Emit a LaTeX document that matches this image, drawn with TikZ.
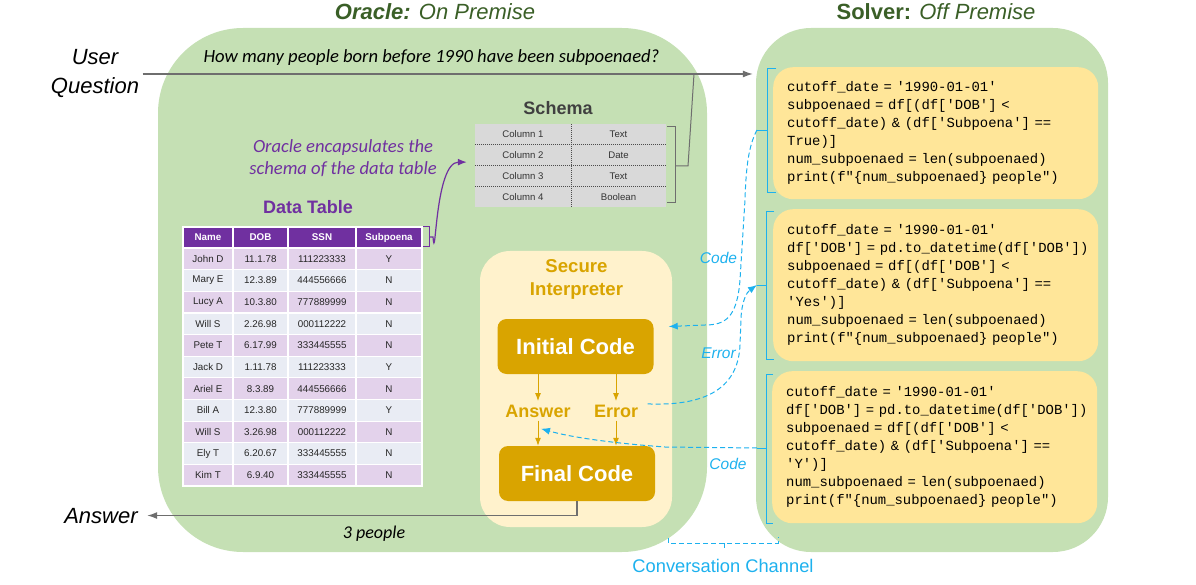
\documentclass[tikz,border=0pt]{standalone}
\usepackage{fontspec}
\setmainfont{Liberation Sans}
\setmonofont{Liberation Mono}
\newfontfamily\carlito{Carlito}
\newcommand{\codefont}{\ttfamily\fontsize{13.9}{18}\selectfont\spaceskip 8.34pt\relax}
\usepackage{tikz}
\usetikzlibrary{calc}
\usetikzlibrary{arrows}
\usetikzlibrary{arrows.meta}
\usetikzlibrary{positioning}
\tikzset{>=latex}

\definecolor{panelgreen}{HTML}{C5E0B4}
\definecolor{titlegreen}{HTML}{3A5F27}
\definecolor{codeyellow}{HTML}{FFE699}
\definecolor{secureyellow}{HTML}{FFF2CC}
\definecolor{gold}{HTML}{D9A400}
\definecolor{tablepurple}{HTML}{7030A0}
\definecolor{rowpurple}{HTML}{E3D2EB}
\definecolor{rowgray}{HTML}{E9ECF4}
\definecolor{schemagray}{HTML}{D9D9D9}
\definecolor{chancyan}{HTML}{1DB1EE}
\definecolor{arrowgray}{HTML}{6E6E6E}

\tikzstyle{panel} = [draw = none, fill = panelgreen, inner sep = 0]
\tikzstyle{codebox} = [draw = none, fill = codeyellow, rounded corners = 20pt, anchor = north west, text width = 297pt, inner xsep = 14pt, inner ysep = 0pt, align = left, font = \codefont]
\tikzstyle{cell} = [draw = white, line width = 1.2pt, minimum height = 21.64pt, inner sep = 0, text = black!85, font = \fontsize{9.8}{11}\selectfont]
\tikzstyle{hcell} = [cell, fill = tablepurple, minimum height = 21pt, text = white, font = \bfseries\fontsize{9.8}{11}\selectfont]
\tikzstyle{scell} = [draw = none, fill = schemagray, minimum height = 20.75pt, inner sep = 0, text = black!80, font = \fontsize{9.6}{11}\selectfont]
\tikzstyle{goldbox} = [draw = none, fill = gold, rounded corners = 9pt, minimum width = 156pt, minimum height = 55pt, text = white, font = \bfseries\fontsize{22}{26}\selectfont]
\tikzstyle{goldlabel} = [draw = none, text = gold, anchor = base, font = \bfseries\fontsize{18}{22}\selectfont]
\tikzstyle{goldarrow} = [-{Latex[length = 8pt, width = 6pt]}, draw = gold, line width = 1pt]
\tikzstyle{chan} = [draw = chancyan, line width = 1pt, dash pattern = on 5pt off 3pt]
\tikzstyle{chanarrow} = [chan, -{Latex[length = 9pt, width = 7pt]}]
\tikzstyle{chanlabel} = [draw = none, text = chancyan, anchor = base, font = \itshape\fontsize{15.5}{18}\selectfont]
\tikzstyle{brack} = [draw = chancyan, line width = 0.8pt]
\tikzstyle{grayline} = [draw = arrowgray, line width = 1.2pt]

\begin{document}
\begin{tikzpicture}[x = 1pt, y = -1pt]
\useasboundingbox (0, 0) rectangle (1196, 585);

% panels
\node [panel, rounded corners = 85pt, minimum width = 549pt, minimum height = 524pt] (oracle) at (432.5, 290) {};
\node [panel, rounded corners = 55pt, minimum width = 352pt, minimum height = 524pt] (solver) at (932, 290) {};
\node [draw = none, anchor = base, text = titlegreen, font = \fontsize{22}{26}\selectfont] (otitle) at (435, 20) {\textbf{\textit{Oracle:}} \textit{On Premise}};
\node [draw = none, anchor = base, text = titlegreen, font = \fontsize{22}{26}\selectfont] (stitle) at (936, 20) {\textbf{Solver:} \textit{Off Premise}};

% question in, answer out
\node [draw = none, align = center, font = \itshape\fontsize{22}{29}\selectfont] (user) at (95, 74) {User\\Question};
\node [draw = none, anchor = base, font = \carlito\itshape\fontsize{18.6}{22}\selectfont] (question) at (431.5, 63) {How many people born before 1990 have been subpoenaed?};
\draw [grayline, -{Latex[length = 10pt, width = 7pt]}, shorten > = 3pt] (user.east) -- (user.east -| solver.west);

% schema
\node [draw = none, anchor = base, text = black!75, font = \bfseries\fontsize{18}{22}\selectfont] (schema) at (558, 115) {Schema};
\foreach \cl/\ty [count = \i] in {Column 1/Text, Column 2/Date, Column 3/Text, Column 4/Boolean} {
  \pgfmathsetmacro{\sy}{124 + (\i - 0.5) * 20.75}
  \node [scell, minimum width = 96pt] (col\i) at (523, \sy) {\cl};
  \node [scell, minimum width = 95pt] (type\i) at (618.5, \sy) {\ty};
}
\foreach \i in {1, 2, 3}
  \draw [black!70, line width = 0.9pt, dash pattern = on 1pt off 1pt] (col\i.south west) -- (type\i.south east);
\draw [black!70, line width = 0.9pt, dash pattern = on 1pt off 1pt] (col1.north east) -- (col4.south east);
\draw [grayline, line width = 1pt] (667, 127) -- (675, 127) -- (675, 203) -- (667, 203);
\draw [grayline, line width = 1pt] (675, 166) -- (688, 166) -- (694, 74);

% data table
\node [draw = none, align = center, text = tablepurple, font = \carlito\itshape\fontsize{18.6}{22}\selectfont] (note) at (343, 158) {Oracle encapsulates the\\schema of the data table};
\node [draw = none, anchor = base, text = tablepurple, font = \bfseries\fontsize{18}{22}\selectfont] (dtitle) at (308, 214) {Data Table};
\node [hcell, minimum width = 50pt] (hname) at (208, 237.5) {Name};
\node [hcell, minimum width = 55pt] (hdob) at (260.5, 237.5) {DOB};
\node [hcell, minimum width = 68pt] (hssn) at (322, 237.5) {SSN};
\node [hcell, minimum width = 66pt] (hsub) at (389, 237.5) {Subpoena};
\foreach \nm/\dob/\ssn/\sub [count = \i] in {John D/11.1.78/111223333/Y, Mary E/12.3.89/444556666/N, Lucy A/10.3.80/777889999/N, Will S/2.26.98/000112222/N, Pete T/6.17.99/333445555/N, Jack D/1.11.78/111223333/Y, Ariel E/8.3.89/444556666/N, Bill A/12.3.80/777889999/Y, Will S/3.26.98/000112222/N, Ely T/6.20.67/333445555/N, Kim T/6.9.40/333445555/N} {
  \ifodd\i \def\rc{rowpurple}\else\def\rc{rowgray}\fi
  \pgfmathsetmacro{\ry}{258.8 + (\i - 1) * 21.64}
  \node [cell, fill = \rc, minimum width = 50pt] (name\i) at (208, \ry) {\nm};
  \node [cell, fill = \rc, minimum width = 55pt] (dob\i) at (260.5, \ry) {\dob};
  \node [cell, fill = \rc, minimum width = 68pt] (ssn\i) at (322, \ry) {\ssn};
  \node [cell, fill = \rc, minimum width = 66pt] (sub\i) at (389, \ry) {\sub};
}
\draw [tablepurple, line width = 1pt] (423, 227) -- (429, 227) -- (429, 247) -- (423, 247);
\draw [tablepurple, line width = 1.2pt, -{Latex[length = 9pt, width = 7pt]}] (429, 237) -- (433, 237) to [out = -85, in = 180] ($(col2.west) + (-8, 7)$);

% secure interpreter
\node [draw = none, fill = secureyellow, rounded corners = 30pt, minimum width = 192pt, minimum height = 276pt] (secure) at (576, 389) {};
\node [draw = none, align = center, text = gold, font = \bfseries\fontsize{18.6}{23}\selectfont] (stitle) at (576.5, 279) {Secure\\Interpreter};
\node [goldbox] (initial) at (575.5, 346.5) {Initial Code};
\node [goldbox] (final) at (577, 473.5) {Final Code};
\node [goldlabel] (answer) at (538, 417) {Answer};
\node [goldlabel] (err) at (616, 417) {Error};
\draw [goldarrow] (initial.south -| answer.north) -- (answer.north);
\draw [goldarrow] (initial.south -| err.north) -- (err.north);
\draw [goldarrow] (answer.south) -- (answer.south |- final.north);
\draw [goldarrow] (err.south) -- (err.south |- final.north);

\node [draw = none, anchor = base, font = \itshape\fontsize{22}{26}\selectfont] (out) at (101, 523) {Answer};
\node [draw = none, anchor = base, font = \carlito\itshape\fontsize{18}{22}\selectfont] (people) at (374, 538) {3 people};
\draw [grayline, -{Latex[length = 10pt, width = 7pt]}, shorten > = 6pt] (final.south) |- (out.east);

% solver code
\node [codebox, minimum height = 132pt] (code1) at (773, 67) {cutoff\_date = '1990-01-01'\\
subpoenaed = df[(df['DOB'] <\\
cutoff\_date) \& (df['Subpoena'] ==\\
True)]\\
num\_subpoenaed = len(subpoenaed)\\
print(f"\{num\_subpoenaed\} people")};
\node [codebox, minimum height = 152pt] (code2) at (773, 209) {cutoff\_date = '1990-01-01'\\
df['DOB']~=~pd.to\_datetime(df['DOB'])\\
subpoenaed = df[(df['DOB'] <\\
cutoff\_date) \& (df['Subpoena'] ==\\
'Yes')]\\
num\_subpoenaed = len(subpoenaed)\\
print(f"\{num\_subpoenaed\} people")};
\node [codebox, minimum height = 152pt] (code3) at (772, 371) {cutoff\_date = '1990-01-01'\\
df['DOB']~=~pd.to\_datetime(df['DOB'])\\
subpoenaed = df[(df['DOB'] <\\
cutoff\_date) \& (df['Subpoena'] ==\\
'Y')]\\
num\_subpoenaed = len(subpoenaed)\\
print(f"\{num\_subpoenaed\} people")};

% brackets and conversation channel
\coordinate (b1) at (757, 130);
\coordinate (b2) at (757, 285);
\coordinate (b3) at (757, 448);
\coordinate (codein) at ($(initial.east) + (15, -20)$);
\coordinate (codeans) at ($(answer.south) + (3, 8)$);
\draw [brack] (776, 68) -- (767, 68) -- (767, 192) -- (776, 192);
\draw [brack] (767, 130) -- (b1);
\draw [brack] (774, 211) -- (766, 211) -- (766, 359) -- (774, 359);
\draw [brack] (766, 285) -- (b2);
\draw [brack] (773, 374) -- (766, 374) -- (766, 523) -- (773, 523);
\draw [brack] (766, 448) -- (b3);

\draw [chanarrow] (b1) .. controls (749, 145) and (746, 165) .. (745, 200) -- (740, 280) .. controls (737, 318) and (725, 325) .. (705, 325) -- (codein);
\draw [chanarrow] ($(err.east) + (6, -7)$) .. controls (700, 406) and (738, 392) .. (740, 345) -- (741, 318) .. controls (742, 300) and (747, 292) .. (b2);
\draw [chanarrow] (b3) -- (665, 447) .. controls (610, 443) and (570, 437) .. (codeans);
\node [chanlabel] (lcode1) at (718.5, 264) {Code};
\node [chanlabel] (lerr) at (718.5, 358) {Error};
\node [chanlabel] (lcode2) at (728, 469) {Code};

\draw [chan] (668, 538) -- (668, 543) -- (778, 543) -- (778, 537);
\draw [brack] (724, 543) -- (724, 548);
\node [draw = none, anchor = base, text = chancyan, font = \fontsize{18.3}{22}\selectfont] (channel) at (723, 572) {Conversation Channel};
\end{tikzpicture}
\end{document}
